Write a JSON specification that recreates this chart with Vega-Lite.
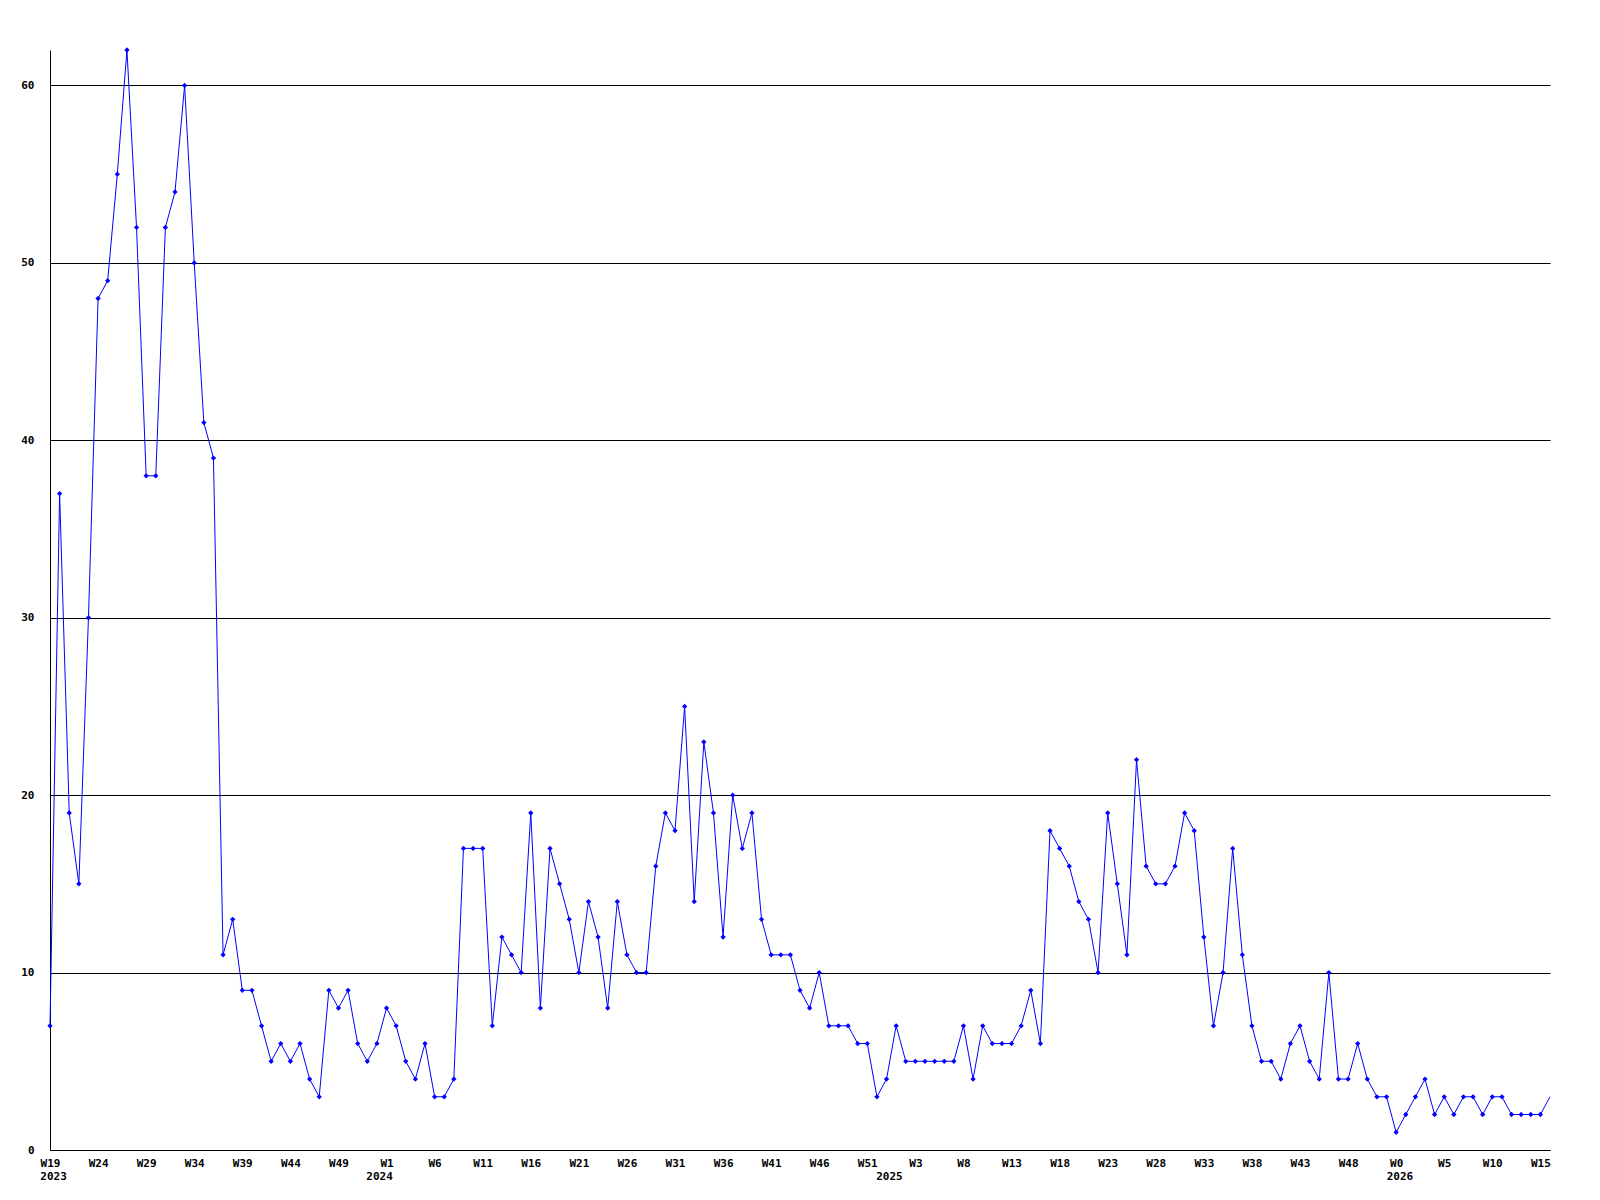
{
  "$schema": "https://vega.github.io/schema/vega-lite/v6.json",
  "width": 1500,
  "height": 1100,
  "autosize": {"type": "none"},
  "padding": {"left": 50, "top": 50, "right": 50, "bottom": 50},
  "background": "white",
  "config": {
    "view": {"stroke": null},
    "font": "DejaVu Sans Mono",
    "axis": {
      "domainColor": "black",
      "domainWidth": 1,
      "ticks": false,
      "labelFont": "DejaVu Sans Mono",
      "labelFontWeight": "bold",
      "labelFontSize": 11,
      "labelColor": "black",
      "labelFlush": false,
      "labelOverlap": false,
      "title": null
    }
  },
  "datasets": {
    "weeks": [
      {"week": 0, "count": 7}, {"week": 1, "count": 37}, {"week": 2, "count": 19}, {"week": 3, "count": 15},
      {"week": 4, "count": 30}, {"week": 5, "count": 48}, {"week": 6, "count": 49}, {"week": 7, "count": 55},
      {"week": 8, "count": 62}, {"week": 9, "count": 52}, {"week": 10, "count": 38}, {"week": 11, "count": 38},
      {"week": 12, "count": 52}, {"week": 13, "count": 54}, {"week": 14, "count": 60}, {"week": 15, "count": 50},
      {"week": 16, "count": 41}, {"week": 17, "count": 39}, {"week": 18, "count": 11}, {"week": 19, "count": 13},
      {"week": 20, "count": 9}, {"week": 21, "count": 9}, {"week": 22, "count": 7}, {"week": 23, "count": 5},
      {"week": 24, "count": 6}, {"week": 25, "count": 5}, {"week": 26, "count": 6}, {"week": 27, "count": 4},
      {"week": 28, "count": 3}, {"week": 29, "count": 9}, {"week": 30, "count": 8}, {"week": 31, "count": 9},
      {"week": 32, "count": 6}, {"week": 33, "count": 5}, {"week": 34, "count": 6}, {"week": 35, "count": 8},
      {"week": 36, "count": 7}, {"week": 37, "count": 5}, {"week": 38, "count": 4}, {"week": 39, "count": 6},
      {"week": 40, "count": 3}, {"week": 41, "count": 3}, {"week": 42, "count": 4}, {"week": 43, "count": 17},
      {"week": 44, "count": 17}, {"week": 45, "count": 17}, {"week": 46, "count": 7}, {"week": 47, "count": 12},
      {"week": 48, "count": 11}, {"week": 49, "count": 10}, {"week": 50, "count": 19}, {"week": 51, "count": 8},
      {"week": 52, "count": 17}, {"week": 53, "count": 15}, {"week": 54, "count": 13}, {"week": 55, "count": 10},
      {"week": 56, "count": 14}, {"week": 57, "count": 12}, {"week": 58, "count": 8}, {"week": 59, "count": 14},
      {"week": 60, "count": 11}, {"week": 61, "count": 10}, {"week": 62, "count": 10}, {"week": 63, "count": 16},
      {"week": 64, "count": 19}, {"week": 65, "count": 18}, {"week": 66, "count": 25}, {"week": 67, "count": 14},
      {"week": 68, "count": 23}, {"week": 69, "count": 19}, {"week": 70, "count": 12}, {"week": 71, "count": 20},
      {"week": 72, "count": 17}, {"week": 73, "count": 19}, {"week": 74, "count": 13}, {"week": 75, "count": 11},
      {"week": 76, "count": 11}, {"week": 77, "count": 11}, {"week": 78, "count": 9}, {"week": 79, "count": 8},
      {"week": 80, "count": 10}, {"week": 81, "count": 7}, {"week": 82, "count": 7}, {"week": 83, "count": 7},
      {"week": 84, "count": 6}, {"week": 85, "count": 6}, {"week": 86, "count": 3}, {"week": 87, "count": 4},
      {"week": 88, "count": 7}, {"week": 89, "count": 5}, {"week": 90, "count": 5}, {"week": 91, "count": 5},
      {"week": 92, "count": 5}, {"week": 93, "count": 5}, {"week": 94, "count": 5}, {"week": 95, "count": 7},
      {"week": 96, "count": 4}, {"week": 97, "count": 7}, {"week": 98, "count": 6}, {"week": 99, "count": 6},
      {"week": 100, "count": 6}, {"week": 101, "count": 7}, {"week": 102, "count": 9}, {"week": 103, "count": 6},
      {"week": 104, "count": 18}, {"week": 105, "count": 17}, {"week": 106, "count": 16}, {"week": 107, "count": 14},
      {"week": 108, "count": 13}, {"week": 109, "count": 10}, {"week": 110, "count": 19}, {"week": 111, "count": 15},
      {"week": 112, "count": 11}, {"week": 113, "count": 22}, {"week": 114, "count": 16}, {"week": 115, "count": 15},
      {"week": 116, "count": 15}, {"week": 117, "count": 16}, {"week": 118, "count": 19}, {"week": 119, "count": 18},
      {"week": 120, "count": 12}, {"week": 121, "count": 7}, {"week": 122, "count": 10}, {"week": 123, "count": 17},
      {"week": 124, "count": 11}, {"week": 125, "count": 7}, {"week": 126, "count": 5}, {"week": 127, "count": 5},
      {"week": 128, "count": 4}, {"week": 129, "count": 6}, {"week": 130, "count": 7}, {"week": 131, "count": 5},
      {"week": 132, "count": 4}, {"week": 133, "count": 10}, {"week": 134, "count": 4}, {"week": 135, "count": 4},
      {"week": 136, "count": 6}, {"week": 137, "count": 4}, {"week": 138, "count": 3}, {"week": 139, "count": 3},
      {"week": 140, "count": 1}, {"week": 141, "count": 2}, {"week": 142, "count": 3}, {"week": 143, "count": 4},
      {"week": 144, "count": 2}, {"week": 145, "count": 3}, {"week": 146, "count": 2}, {"week": 147, "count": 3},
      {"week": 148, "count": 3}, {"week": 149, "count": 2}, {"week": 150, "count": 3}, {"week": 151, "count": 3},
      {"week": 152, "count": 2}, {"week": 153, "count": 2}, {"week": 154, "count": 2}, {"week": 155, "count": 2},
      {"week": 156, "count": 3}
    ],
    "years": [
      {"pos": 0.37, "year": "2023"},
      {"pos": 34.27, "year": "2024"},
      {"pos": 87.3, "year": "2025"},
      {"pos": 140.4, "year": "2026"}
    ]
  },
  "layer": [
    {
      "data": {"name": "weeks"},
      "mark": {"type": "line", "color": "#0000ff", "strokeWidth": 1, "interpolate": "linear"},
      "encoding": {
        "x": {
          "field": "week", "type": "quantitative",
          "scale": {"domain": [0, 156], "nice": false, "zero": false},
          "axis": {
            "values": [0,5,10,15,20,25,30,35,40,45,50,55,60,65,70,75,80,85,90,95,100,105,110,115,120,125,130,135,140,145,150,155],
            "labelExpr": "['W19','W24','W29','W34','W39','W44','W49','W1','W6','W11','W16','W21','W26','W31','W36','W41','W46','W51','W3','W8','W13','W18','W23','W28','W33','W38','W43','W48','W0','W5','W10','W15'][round(datum.value/5)]",
            "grid": false,
            "labelPadding": 7,
            "labelAlign": "center",
            "labelBaseline": "top"
          }
        },
        "y": {
          "field": "count", "type": "quantitative",
          "scale": {"domain": [0, 62], "nice": false, "zero": true},
          "axis": {
            "values": [0,10,20,30,40,50,60],
            "grid": true,
            "gridColor": "black",
            "gridOpacity": 1,
            "gridWidth": 1,
            "labelPadding": 16
          }
        }
      }
    },
    {
      "data": {"name": "weeks"},
      "transform": [{"filter": "datum.week < 156"}],
      "mark": {"type": "point", "shape": "diamond", "filled": true, "size": 28, "color": "#0000ff", "opacity": 1},
      "encoding": {
        "x": {"field": "week", "type": "quantitative"},
        "y": {"field": "count", "type": "quantitative"}
      }
    },
    {
      "data": {"name": "years"},
      "mark": {"type": "text", "dy": 27, "font": "DejaVu Sans Mono", "fontWeight": "bold", "fontSize": 11, "color": "black", "baseline": "middle", "align": "center"},
      "encoding": {
        "x": {"field": "pos", "type": "quantitative"},
        "y": {"datum": 0},
        "text": {"field": "year"}
      }
    }
  ]
}
